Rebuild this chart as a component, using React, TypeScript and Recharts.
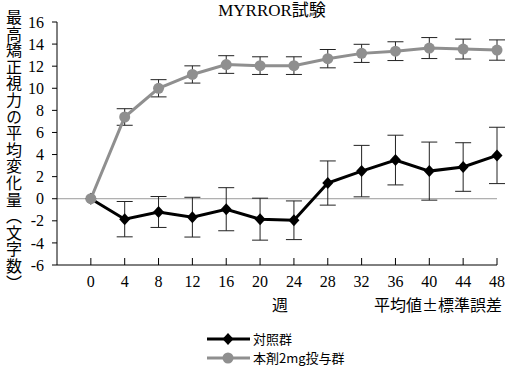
import React from 'react'
import { LineChart, Line, XAxis, YAxis, ErrorBar, ReferenceLine, Legend } from 'recharts'

// 週
const weeks = [0, 4, 8, 12, 16, 20, 24, 28, 32, 36, 40, 44, 48]
// 対照群
const controlMean = [0, -1.85, -1.2, -1.67, -0.95, -1.85, -1.95, 1.42, 2.5, 3.5, 2.5, 2.87, 3.92]
const controlSe = [0, 1.6, 1.4, 1.8, 1.95, 1.9, 1.75, 2.0, 2.33, 2.25, 2.63, 2.2, 2.55]
// 本剤2mg投与群
const drugMean = [0, 7.4, 10.0, 11.25, 12.15, 12.05, 12.05, 12.68, 13.16, 13.36, 13.64, 13.55, 13.46]
const drugSe = [0, 0.75, 0.78, 0.78, 0.8, 0.8, 0.8, 0.83, 0.82, 0.85, 0.95, 0.9, 0.92]

const yTicks = [-6, -4, -2, 0, 2, 4, 6, 8, 10, 12, 14, 16]
const seriesNames = ['対照群', '本剤2mg投与群']

const SERIF = '"Liberation Serif", "DejaVu Serif", "Noto Sans CJK JP", serif'
const CJK = '"Noto Sans CJK JP", sans-serif'

const data = weeks.map((w, i) => ({
  week: w,
  control: controlMean[i],
  controlErr: controlSe[i],
  drug: drugMean[i],
  drugErr: drugSe[i],
}))

const Diamond = (props: any) => {
  const { cx, cy } = props
  if (cx == null || cy == null) return null
  return (
    <polygon
      points={`${cx},${cy - 6} ${cx + 5.5},${cy} ${cx},${cy + 6} ${cx - 5.5},${cy}`}
      fill="#000"
    />
  )
}

const LegendContent = () => (
  <div style={{ fontFamily: CJK, fontSize: 13, color: '#000' }}>
    <div style={{ display: 'flex', alignItems: 'center', height: 19 }}>
      <svg width={46} height={14}>
        <line x1={1} x2={44} y1={7} y2={7} stroke="#000" strokeWidth={3} />
        <polygon points="22,1 27.5,7 22,13 16.5,7" fill="#000" />
      </svg>
      <span style={{ marginLeft: 1 }}>{seriesNames[0]}</span>
    </div>
    <div style={{ display: 'flex', alignItems: 'center', height: 19 }}>
      <svg width={46} height={14}>
        <line x1={1} x2={44} y1={7} y2={7} stroke="#8f8f8f" strokeWidth={3} />
        <circle cx={22} cy={7} r={5.5} fill="#8f8f8f" />
      </svg>
      <span style={{ marginLeft: 1 }}>{seriesNames[1]}</span>
    </div>
  </div>
)

export default function App() {
  return (
    <div style={{ position: 'absolute', left: 0, top: 0, width: 505, height: 366, background: '#fff' }}>
      <LineChart width={505} height={366} data={data} margin={{ top: 22, right: 8, bottom: 71, left: 7 }}>
        <XAxis
          dataKey="week"
          type="number"
          domain={[-4, 48]}
          ticks={weeks}
          interval={0}
          height={30}
          axisLine={{ stroke: '#000', strokeWidth: 1 }}
          tickLine={{ stroke: '#000', strokeWidth: 1 }}
          tickSize={-7}
          tickMargin={18}
          tick={{ fill: '#000', fontSize: 16, fontFamily: SERIF }}
        />
        <YAxis
          type="number"
          domain={[-6, 16]}
          ticks={yTicks}
          interval={0}
          width={50}
          axisLine={{ stroke: '#000', strokeWidth: 1 }}
          tickLine={{ stroke: '#000', strokeWidth: 1 }}
          tickSize={5}
          tickMargin={8}
          tick={{ fill: '#000', fontSize: 16, fontFamily: SERIF }}
        />
        <ReferenceLine y={0} stroke="#9a9a9a" strokeWidth={1} />
        <Line
          dataKey="control"
          name={seriesNames[0]}
          stroke="#000"
          strokeWidth={3}
          dot={<Diamond />}
          activeDot={false}
          isAnimationActive={false}
        >
          <ErrorBar dataKey="controlErr" direction="y" width={8} stroke="#222" strokeWidth={1} isAnimationActive={false} />
        </Line>
        <Line
          dataKey="drug"
          name={seriesNames[1]}
          stroke="#8f8f8f"
          strokeWidth={3}
          dot={{ r: 5.5, fill: '#8f8f8f', stroke: 'none' }}
          activeDot={false}
          isAnimationActive={false}
        >
          <ErrorBar dataKey="drugErr" direction="y" width={8} stroke="#222" strokeWidth={1} isAnimationActive={false} />
        </Line>
        <Legend
          layout="vertical"
          align="center"
          verticalAlign="middle"
          content={<LegendContent />}
          wrapperStyle={{ left: 206, top: 329, width: 220 }}
        />
      </LineChart>
      <div style={{ position: 'absolute', left: 172, top: 1, width: 200, textAlign: 'center', fontFamily: SERIF, fontSize: 17, lineHeight: '20px' }}>
        MYRROR試験
      </div>
      <div
        style={{
          position: 'absolute',
          left: 6,
          top: 9,
          writingMode: 'vertical-rl',
          fontFamily: CJK,
          fontSize: 16,
          lineHeight: '16px',
          letterSpacing: 0.6,
          color: '#000',
        }}
      >
        最高矯正視力の平均変化量（文字数）
      </div>
      <div style={{ position: 'absolute', left: 272, top: 295, fontFamily: CJK, fontSize: 16, lineHeight: '19px' }}>週</div>
      <div style={{ position: 'absolute', left: 374, top: 295, fontFamily: CJK, fontSize: 16, lineHeight: '19px', whiteSpace: 'nowrap' }}>
        平均値±標準誤差
      </div>
    </div>
  )
}
